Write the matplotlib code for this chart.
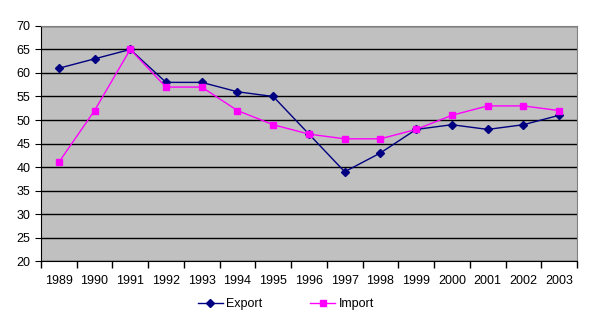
import matplotlib.pyplot as plt
import numpy as np

# Export / import values by year
years = ["1989", "1990", "1991", "1992", "1993", "1994", "1995", "1996",
         "1997", "1998", "1999", "2000", "2001", "2002", "2003"]
export = [61, 63, 65, 58, 58, 56, 55, 47, 39, 43, 48, 49, 48, 49, 51]
imports = [41, 52, 65, 57, 57, 52, 49, 47, 46, 46, 48, 51, 53, 53, 52]

plt.rcParams["font.family"] = ["Liberation Sans", "DejaVu Sans"]

fig = plt.figure(figsize=(5.93, 3.24), dpi=100)
ax = fig.add_axes([0.069, 0.194, 0.904, 0.726])
ax.set_facecolor("#C0C0C0")

x = np.arange(len(years))
ax.plot(x, export, color="#000080", marker="D", markersize=4.5, linewidth=1, label="Export")
ax.plot(x, imports, color="#FF00FF", marker="s", markersize=5, linewidth=1, label="Import")

ax.set_xlim(-0.5, len(years) - 0.5)
ax.set_ylim(20, 70)
ax.set_yticks(range(20, 71, 5))
ax.yaxis.grid(True, color="black", linewidth=1)
ax.set_axisbelow(True)

# labels centred on categories, tick marks on the boundaries
ax.set_xticks(x)
ax.set_xticklabels(years)
ax.set_xticks(np.arange(-0.5, len(years), 1), minor=True)
ax.tick_params(axis="x", which="major", length=0, pad=10, labelsize=9)
ax.tick_params(axis="x", which="minor", length=5, width=1)
ax.tick_params(axis="y", length=4, labelsize=9)

for side in ["top", "right"]:
    ax.spines[side].set_color("#808080")
for side in ["left", "bottom"]:
    ax.spines[side].set_color("black")

fig.legend(loc="center", bbox_to_anchor=(0.482, 0.062), ncol=2, frameon=False,
           fontsize=9, columnspacing=3.8, handlelength=2.0, handletextpad=0.3)

fig.savefig("out.png", dpi=100)
